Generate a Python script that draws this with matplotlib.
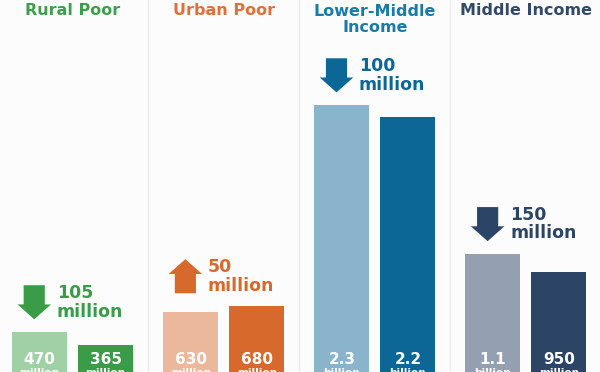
import matplotlib
matplotlib.use("Agg")
import matplotlib.pyplot as plt
from matplotlib import transforms

# data (millions of people)
groups = ["Rural Poor", "Urban Poor", "Lower-Middle\nIncome", "Middle Income"]
before = [470, 630, 2300, 1100]
after = [365, 680, 2200, 950]
before_lbl = ["470", "630", "2.3", "1.1"]
after_lbl = ["365", "680", "2.2", "950"]
unit_before = ["million", "million", "billion", "billion"]
unit_after = ["million", "million", "billion", "million"]
change_lbl = ["105\nmillion", "50\nmillion", "100\nmillion", "150\nmillion"]
change_up = [False, True, False, False]

light = ["#a0d1a4", "#ebb89b", "#8ab4cc", "#94a0b2"]
dark = ["#3a9b48", "#d8692d", "#0d6796", "#2c4567"]
title_col = ["#3d9e4b", "#e07038", "#1a7aa8", "#33496a"]

bg = "#fbfcfb"
font = "DejaVu Sans"

fig = plt.figure(figsize=(6, 3.72), dpi=100, facecolor=bg)
ax = fig.add_axes([0, 0, 1, 1])
ax.set_facecolor(bg)
ax.set_xlim(-0.48, 3.49)
ax.set_ylim(145, 3145)
ax.axis("off")

off = 0.2185
w = 0.364
xs = list(range(len(groups)))
ax.bar([x - off for x in xs], before, width=w, color=light, zorder=2)
ax.bar([x + off for x in xs], after, width=w, color=dark, zorder=2)

for b in [0.5, 1.5, 2.5]:
    ax.axvline(b, color="#eceeec", lw=1, zorder=1)

trans = transforms.blended_transform_factory(ax.transData, ax.transAxes)
for i, x in enumerate(xs):
    # group title
    ax.text(x, 1 - (19.5 if "\n" in groups[i] else 10.5) / 372, groups[i],
            transform=trans, ha="center", va="center", fontsize=11.5,
            fontweight="bold", color=title_col[i], family=font, linespacing=1.0)

    # values inside bars (unit line is cut by the bottom edge, like the original)
    for xx, lbl, unit in [(x - off, before_lbl[i], unit_before[i]),
                          (x + off, after_lbl[i], unit_after[i])]:
        ax.text(xx, 12 / 372, lbl, transform=trans, ha="center", va="center",
                fontsize=11, color="white", fontweight="bold", family=font, zorder=3)
        ax.text(xx, 3.5 / 372, unit, transform=trans, ha="center", va="top",
                fontsize=7.5, color="white", fontweight="bold", family=font, zorder=3)

    # change arrow
    base = max(before[i], after[i]) + 100
    length = 275
    ax_x = x - off - 0.035
    if change_up[i]:
        ax.arrow(ax_x, base, 0, length, width=0.14, head_width=0.222,
                 head_length=120, length_includes_head=True, color=dark[i], lw=0)
    else:
        ax.arrow(ax_x, base + length, 0, -length, width=0.14, head_width=0.222,
                 head_length=120, length_includes_head=True, color=dark[i], lw=0)
    ax.text(x - 0.105, base + length / 2, change_lbl[i], ha="left", va="center",
            fontsize=12.5, color=dark[i], fontweight="bold", family=font,
            linespacing=1.05)

fig.savefig("out.png", dpi=100, facecolor=bg)
